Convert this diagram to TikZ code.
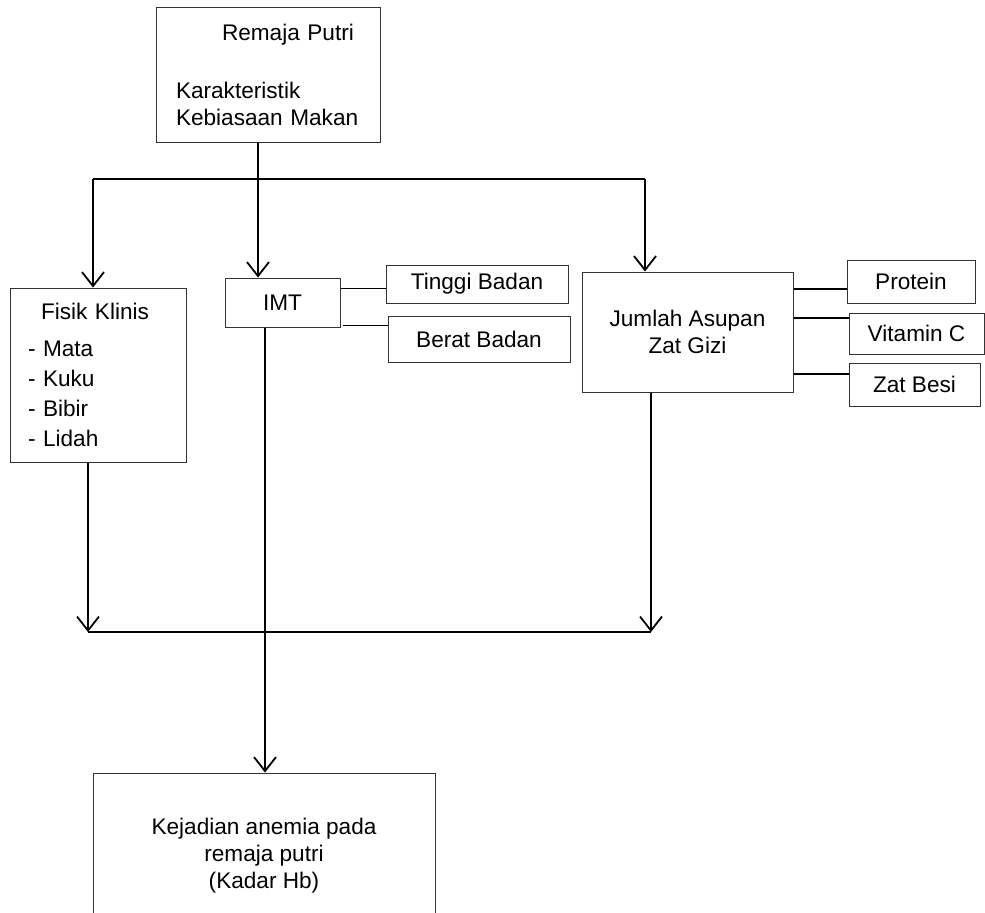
\documentclass[tikz,border=0pt]{standalone}
\usepackage{fontspec}
\setmainfont{Liberation Sans}
\usetikzlibrary{arrows.meta}

\tikzset{
	kotak/.style={draw=black!80, line width=0.5pt, inner sep=0pt, align=center},
	panah/.style={-{Straight Barb[length=7pt,width=11pt]}, line width=0.9pt},
	garis/.style={line width=0.9pt}
}

\begin{document}
\begin{tikzpicture}[
		x=0.5pt,
		y=-0.5pt,
		every node/.style={font=\fontsize{11.3}{13.5}\selectfont}
	]
		\useasboundingbox (0,0) rectangle (985,912);

		% kotak-kotak
		\node[kotak, minimum width=112pt, minimum height=67.5pt, text width=92pt, align=left] (remaja) at (268,74.5)
			{\hspace*{23pt}Remaja Putri\\[15.5pt]Karakteristik\\Kebiasaan Makan};
		\node[kotak, minimum width=88pt, minimum height=87pt, text width=70pt, align=left] (fisik) at (98,375)
			{\hspace*{6.5pt}Fisik Klinis\\[5pt]- Mata\\[1.5pt]- Kuku\\[1.5pt]- Bibir\\[1.5pt]- Lidah};
		\node[kotak, minimum width=57.5pt, minimum height=24.5pt] (imt) at (282.5,302.5) {IMT};
		\node[kotak, minimum width=91pt, minimum height=19pt] (tb) at (477,284) {Tinggi Badan};
		\node[kotak, minimum width=91pt, minimum height=23pt] (bb) at (479,339) {Berat Badan};
		\node[kotak, minimum width=105.5pt, minimum height=60pt] (jas) at (687.5,332) {Jumlah Asupan\\Zat Gizi};
		\node[kotak, minimum width=64pt, minimum height=21.5pt] (prot) at (911,281.5) {Protein};
		\node[kotak, minimum width=67.5pt, minimum height=20.5pt] (vitc) at (916.5,333.5) {Vitamin C};
		\node[kotak, minimum width=65.5pt, minimum height=21.5pt] (zb) at (914.5,384.5) {Zat Besi};
		\node[kotak, minimum width=171pt, minimum height=83pt] (hasil) at (264,856)
			{Kejadian anemia pada\\remaja putri\\(Kadar Hb)};

		% cabang atas
		\coordinate (cab) at (258,179);
		\coordinate (cabkiri) at (93,179);
		\coordinate (cabkanan) at (645,179);
		\draw[garis] (remaja.south -| cab) -- (cab);
		\draw[garis] (cabkiri) -- (cabkanan);
		\draw[panah] (cabkiri) -- (cabkiri |- fisik.north);
		\draw[panah] (cab) -- (cab |- imt.north);
		\draw[panah] (cabkanan) -- (cabkanan |- jas.north);

		% sub variabel
		\draw[garis] ([yshift=7pt]imt.east) -- ([yshift=7pt]imt.east -| tb.west);
		\draw[garis] ([yshift=-11.5pt,xshift=1pt]imt.east) -- ([yshift=-11.5pt]imt.east -| bb.west);
		\draw[garis] ([yshift=21.5pt]jas.east) -- ([yshift=21.5pt]jas.east -| prot.west);
		\draw[garis] ([yshift=7pt]jas.east) -- ([yshift=7pt]jas.east -| vitc.west);
		\draw[garis] ([yshift=-21pt]jas.east) -- ([yshift=-21pt]jas.east -| zb.west);

		% cabang bawah
		\coordinate (gabkiri) at (88,632);
		\coordinate (gabkanan) at (651,632);
		\draw[panah] (fisik.south -| gabkiri) -- (gabkiri);
		\draw[panah] (jas.south -| gabkanan) -- (gabkanan);
		\draw[garis] (gabkiri) -- (gabkanan);
		\coordinate (turun) at (265,0);
		\draw[panah] (imt.south -| turun) -- (hasil.north -| turun);
\end{tikzpicture}
\end{document}
